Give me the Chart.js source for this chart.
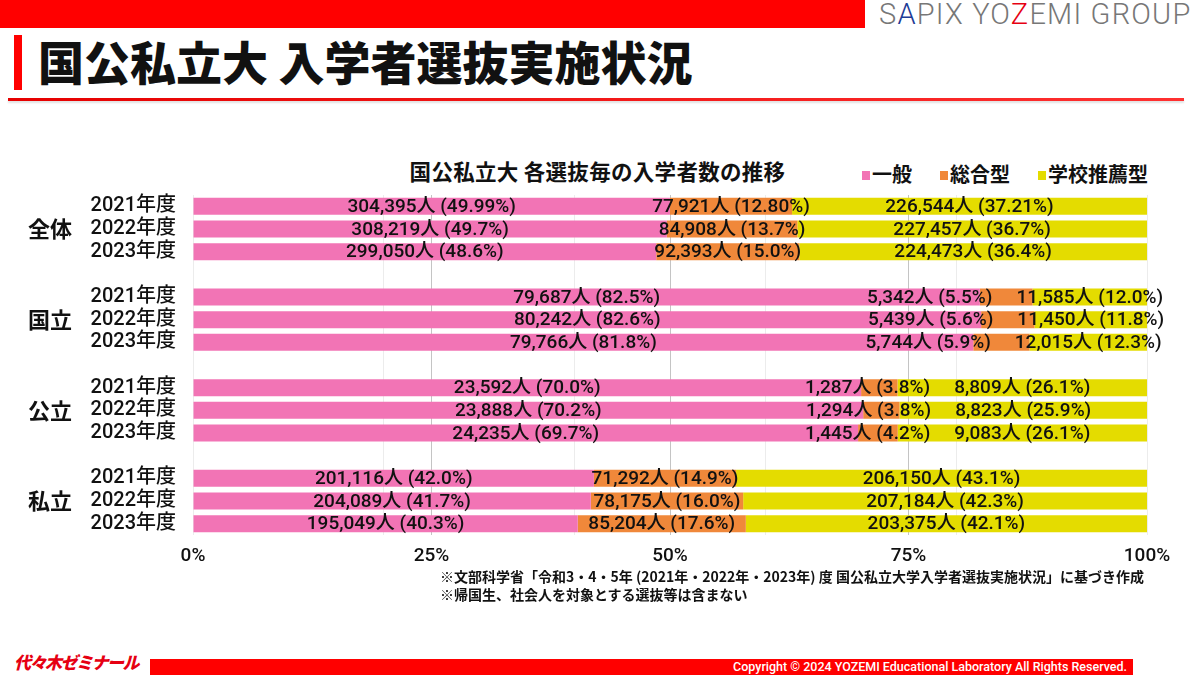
<!DOCTYPE html>
<html lang="ja">
<head>
<meta charset="utf-8">
<title>国公私立大 入学者選抜実施状況</title>
<script src="https://cdn.jsdelivr.net/npm/chart.js@4"></script>
<style>
body { margin:0; width:1200px; height:675px; overflow:hidden; background:#fff; font-family:"Noto Sans CJK JP", sans-serif; color:#111; position:relative; }
.abs { position:absolute; }
#topbar { left:0; top:0; width:865px; height:28px; background:#ff0000; }
#group { left:879px; top:-3px; font-family:Roboto, sans-serif; font-weight:300; font-size:29px; color:#777; letter-spacing:1.2px; white-space:nowrap; }
#group .b { color:#1e3c96; } #group .r { color:#e60012; }
#vbar { left:14px; top:35px; width:8px; height:55px; background:#ff0000; }
#title { left:38px; top:30px; font-weight:900; font-size:46px; line-height:60px; white-space:nowrap; }
#rule { left:8px; top:98px; width:1176px; height:3px; background:linear-gradient(to right,#e60000,#ff3030); box-shadow:0 2px 2px rgba(0,0,0,0.12); }
#ctitle { left:0; width:1195px; top:155px; text-align:center; font-weight:bold; font-size:21.5px; letter-spacing:0.3px; white-space:nowrap; }
#legend { left:862px; top:159px; font-weight:bold; font-size:20px; white-space:nowrap; }
#legend span.sq { display:inline-block; width:8px; height:9px; margin-right:2px; vertical-align:2px; }
#legend span.it { margin-right:28px; }
#chartbox { left:0; top:166px; width:1200px; height:414px; }
#notes { left:440px; top:567px; font-weight:bold; font-size:14px; line-height:18px; white-space:nowrap; }
#logo { left:14px; top:649px; color:#e60012; font-weight:900; font-style:italic; font-size:17px; letter-spacing:-1.5px; white-space:nowrap; }
#footbar { left:150px; top:659px; width:983px; height:16px; background:#ff0000; color:#fff; font-family:Roboto, sans-serif; font-weight:500; font-size:12.5px; line-height:16px; text-align:right; box-sizing:border-box; padding-right:6px; white-space:nowrap; }
</style>
</head>
<body>
<div id="topbar" class="abs"></div>
<div id="group" class="abs">S<span class="b">A</span>PIX YO<span class="r">Z</span>EMI GROUP</div>
<div id="vbar" class="abs"></div>
<div id="title" class="abs">国公私立大 入学者選抜実施状況</div>
<div id="rule" class="abs"></div>
<div id="ctitle" class="abs">国公私立大 各選抜毎の入学者数の推移</div>
<div id="legend" class="abs"></div>
<div id="chartbox" class="abs"><canvas id="chart"></canvas></div>
<div id="notes" class="abs">※文部科学省「令和3・4・5年 (2021年・2022年・2023年) 度 国公私立大学入学者選抜実施状況」に基づき作成<br>※帰国生、社会人を対象とする選抜等は含まない</div>
<div id="logo" class="abs">代々木ゼミナール</div>
<div id="footbar" class="abs">Copyright © 2024 YOZEMI Educational Laboratory All Rights Reserved.</div>

<script>
// data
var groups = ['全体','国立','公立','私立'];
var years = ['2021年度','2022年度','2023年度'];
var seriesNames = ['一般','総合型','学校推薦型'];
var seriesColors = ['#f274b5','#f0883a','#e4dc00'];

var ippan  = [304395,308219,299050, 79687,80242,79766, 23592,23888,24235, 201116,204089,195049];
var sogo   = [77921,84908,92393,    5342,5439,5744,    1287,1294,1445,    71292,78175,85204];
var suisen = [226544,227457,224473, 11585,11450,12015, 8809,8823,9083,    206150,207184,203375];

var ippanPct  = ['49.99','49.7','48.6', '82.5','82.6','81.8', '70.0','70.2','69.7', '42.0','41.7','40.3'];
var sogoPct   = ['12.80','13.7','15.0', '5.5','5.6','5.9',    '3.8','3.8','4.2',    '14.9','16.0','17.6'];
var suisenPct = ['37.21','36.7','36.4', '12.0','11.8','12.3', '26.1','25.9','26.1', '43.1','42.3','42.1'];

var xTicks = ['0%','25%','50%','75%','100%'];

// build rows with a blank row between groups
var counts = [ippan, sogo, suisen];
var pcts = [ippanPct, sogoPct, suisenPct];
var labels = [], rowIdx = [];
groups.forEach(function(g, gi){
  if (gi > 0) { labels.push(''); rowIdx.push(-1); }
  years.forEach(function(y, yi){ labels.push(y); rowIdx.push(gi*3 + yi); });
});

var datasets = seriesNames.map(function(name, s){
  return {
    label: name,
    backgroundColor: seriesColors[s],
    borderWidth: 0,
    barPercentage: 0.75,
    categoryPercentage: 1,
    data: rowIdx.map(function(r){
      if (r < 0) return null;
      var tot = ippan[r] + sogo[r] + suisen[r];
      return counts[s][r] / tot * 100;
    })
  };
});

document.getElementById('legend').innerHTML = seriesNames.map(function(n, s){
  return '<span class="sq" style="background:' + seriesColors[s] + '"></span><span class="it">' + n + '</span>';
}).join('');

var numFont = 'Roboto, "Noto Sans CJK JP", sans-serif';

var segLabels = {
  id: 'segLabels',
  afterDatasetsDraw: function(chart){
    var ctx = chart.ctx;
    ctx.save();
    ctx.font = '500 19px ' + numFont;
    ctx.fillStyle = '#111';
    ctx.textAlign = 'center';
    ctx.textBaseline = 'middle';
    rowIdx.forEach(function(r, i){
      if (r < 0) return;
      var pos = [], txt = [], w = [];
      for (var s = 0; s < 3; s++) {
        var el = chart.getDatasetMeta(s).data[i];
        txt[s] = counts[s][r].toLocaleString('en-US') + '人 (' + pcts[s][r] + '%)';
        w[s] = ctx.measureText(txt[s]).width;
        pos[s] = (el.x + el.base) / 2;
      }
      // keep the middle label clear of the right one
      var lim = pos[2] - w[2] / 2 - 24;
      if (pos[1] + w[1] / 2 > lim) pos[1] = lim - w[1] / 2;
      var y = chart.getDatasetMeta(0).data[i].y + 1;
      for (var k = 0; k < 3; k++) ctx.fillText(txt[k], pos[k], y);
    });
    ctx.restore();
  }
};

var groupLabels = {
  id: 'groupLabels',
  afterDraw: function(chart){
    var ctx = chart.ctx, ys = chart.scales.y;
    ctx.save();
    ctx.font = 'bold 22px "Noto Sans CJK JP", sans-serif';
    ctx.fillStyle = '#111';
    ctx.textAlign = 'center';
    ctx.textBaseline = 'middle';
    groups.forEach(function(g, gi){
      ctx.fillText(g, 50, ys.getPixelForValue(gi * 4 + 1));
    });
    ctx.restore();
  }
};

new Chart(document.getElementById('chart'), {
  type: 'bar',
  data: { labels: labels, datasets: datasets },
  plugins: [segLabels, groupLabels],
  options: {
    indexAxis: 'y',
    responsive: true,
    maintainAspectRatio: false,
    animation: false,
    layout: { padding: { top: 0, right: 53, left: 0, bottom: 0 } },
    plugins: { legend: { display: false }, tooltip: { enabled: false } },
    scales: {
      x: {
        stacked: true, min: 0, max: 100,
        grid: { color: '#c4c4c4', drawTicks: false },
        border: { display: false },
        ticks: {
          stepSize: 25, padding: 10, color: '#111',
          font: { family: numFont, size: 19, weight: '500' },
          callback: function(v){ return xTicks[v / 25]; }
        },
        afterFit: function(s){ s.height = 45; }
      },
      x2: {
        type: 'linear', position: 'top', min: 0, max: 100,
        grid: { color: '#ececec', drawTicks: false },
        border: { display: false },
        ticks: { display: false, stepSize: 20 },
        afterFit: function(s){ s.height = 0; }
      },
      y: {
        stacked: true,
        grid: { display: false, drawTicks: false },
        border: { display: false },
        ticks: { autoSkip: false, padding: 17, color: '#111', font: { family: numFont, size: 20, weight: '500' } },
        afterFit: function(s){ s.width = 193; }
      }
    }
  }
});
</script>
</body>
</html>
